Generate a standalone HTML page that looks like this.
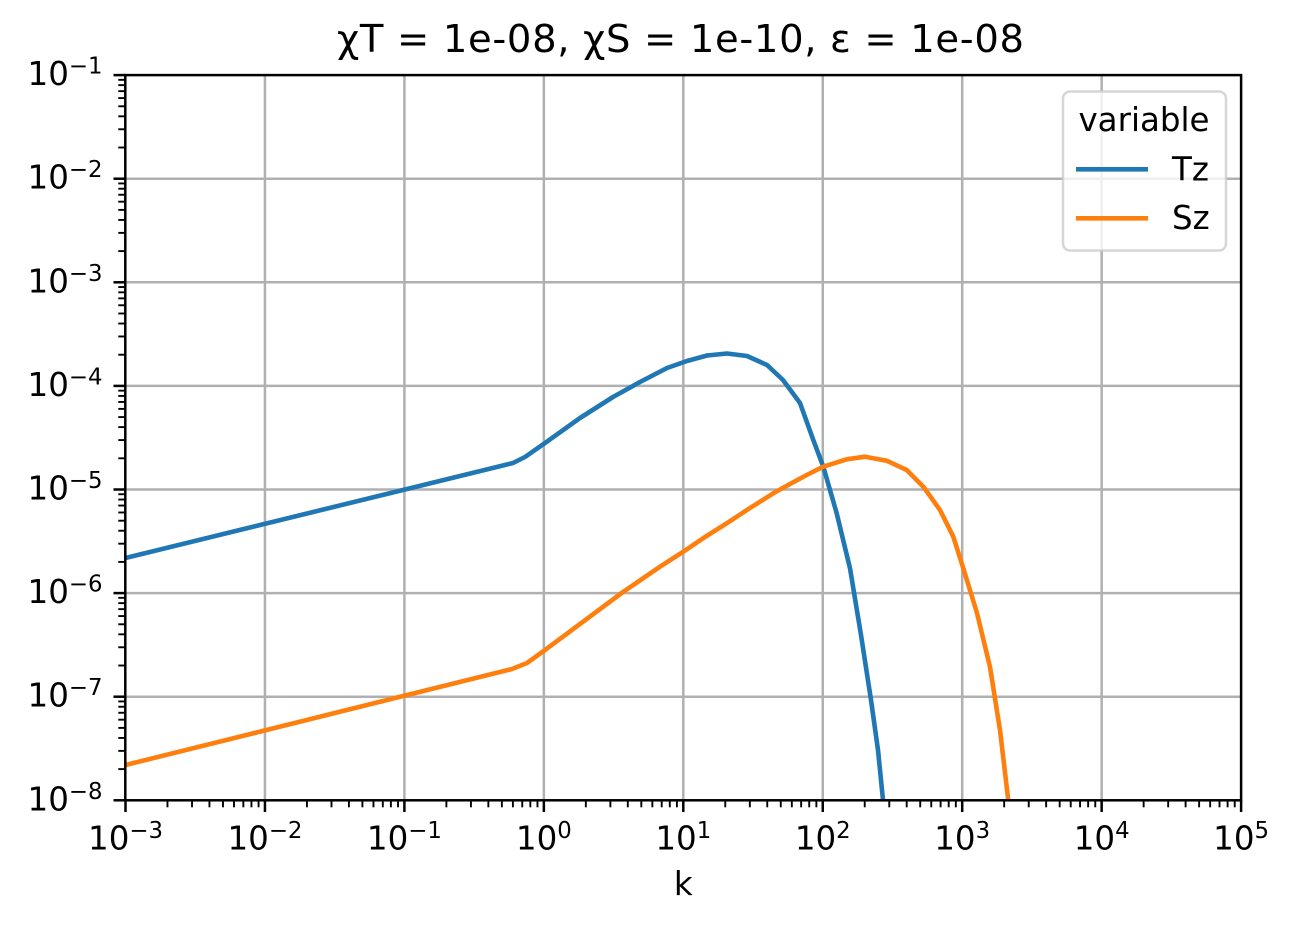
<!DOCTYPE html>
<html>
<head>
<meta charset="utf-8">
<style>
  html, body { margin: 0; padding: 0; background: #ffffff; }
  svg { display: block; }
  text { font-family: "DejaVu Sans", "Liberation Sans", sans-serif; fill: #000; }
</style>
</head>
<body>
<svg width="1293" height="928" viewBox="0 0 1293 928" xmlns="http://www.w3.org/2000/svg">
  <defs>
    <clipPath id="axclip">
      <rect x="125.3" y="75.1" width="1115.8" height="725.2"/>
    </clipPath>
    <g id="xminor" stroke="#000" stroke-width="1.9">
      <line x1="167.48" y1="800.3" x2="167.48" y2="807.3"/>
      <line x1="192.03" y1="800.3" x2="192.03" y2="807.3"/>
      <line x1="209.45" y1="800.3" x2="209.45" y2="807.3"/>
      <line x1="222.97" y1="800.3" x2="222.97" y2="807.3"/>
      <line x1="234.01" y1="800.3" x2="234.01" y2="807.3"/>
      <line x1="243.35" y1="800.3" x2="243.35" y2="807.3"/>
      <line x1="251.44" y1="800.3" x2="251.44" y2="807.3"/>
      <line x1="258.57" y1="800.3" x2="258.57" y2="807.3"/>
    </g>
    <g id="yminor" stroke="#000" stroke-width="1.9">
      <line x1="118.3" y1="769.11" x2="125.3" y2="769.11"/>
      <line x1="118.3" y1="750.87" x2="125.3" y2="750.87"/>
      <line x1="118.3" y1="737.93" x2="125.3" y2="737.93"/>
      <line x1="118.3" y1="727.89" x2="125.3" y2="727.89"/>
      <line x1="118.3" y1="719.68" x2="125.3" y2="719.68"/>
      <line x1="118.3" y1="712.75" x2="125.3" y2="712.75"/>
      <line x1="118.3" y1="706.74" x2="125.3" y2="706.74"/>
      <line x1="118.3" y1="701.44" x2="125.3" y2="701.44"/>
    </g>
  </defs>

  <!-- grid -->
  <g stroke="#b0b0b0" stroke-width="2.5">
    <line x1="264.95" y1="75.1" x2="264.95" y2="800.3"/>
    <line x1="404.4" y1="75.1" x2="404.4" y2="800.3"/>
    <line x1="543.85" y1="75.1" x2="543.85" y2="800.3"/>
    <line x1="683.3" y1="75.1" x2="683.3" y2="800.3"/>
    <line x1="822.75" y1="75.1" x2="822.75" y2="800.3"/>
    <line x1="962.2" y1="75.1" x2="962.2" y2="800.3"/>
    <line x1="1101.65" y1="75.1" x2="1101.65" y2="800.3"/>
    <line x1="125.3" y1="696.7" x2="1241.1" y2="696.7"/>
    <line x1="125.3" y1="593.1" x2="1241.1" y2="593.1"/>
    <line x1="125.3" y1="489.5" x2="1241.1" y2="489.5"/>
    <line x1="125.3" y1="385.9" x2="1241.1" y2="385.9"/>
    <line x1="125.3" y1="282.3" x2="1241.1" y2="282.3"/>
    <line x1="125.3" y1="178.7" x2="1241.1" y2="178.7"/>
  </g>

  <!-- series -->
  <g clip-path="url(#axclip)" fill="none" stroke-width="4.6" stroke-linejoin="round" stroke-linecap="butt">
    <polyline stroke="#1f77b4" points="125.5,558 513,463 525,457 545,443 580,418 613,397 640,382 667,368 687,361 707,355.5 727,353.5 747,356 767,365 783,380 800,403 813.3,440 823.3,466.7 836.7,513.3 850,568.3 861,635 871,700 878,750 883,800 886,840"/>
    <polyline stroke="#ff7f0e" points="125.5,765 512,669 527,663 545,650 623,592 660,566.7 683.3,551.7 705,537 726.7,523.3 750,508 773.3,493.3 790,484 806.7,475 823.3,466.7 846.7,459.3 865,456.7 886.7,460.7 906.7,470 923.3,486.7 940,510 953.3,536.7 963.3,568.3 977,613 990,667 1000,730 1008,798 1011,840"/>
  </g>

  <!-- spines -->
  <rect x="125.3" y="75.1" width="1115.8" height="725.2" fill="none" stroke="#000" stroke-width="2.5"/>

  <!-- minor ticks -->
  <use href="#xminor"/>
  <use href="#xminor" transform="translate(139.45,0)"/>
  <use href="#xminor" transform="translate(278.9,0)"/>
  <use href="#xminor" transform="translate(418.35,0)"/>
  <use href="#xminor" transform="translate(557.8,0)"/>
  <use href="#xminor" transform="translate(697.25,0)"/>
  <use href="#xminor" transform="translate(836.7,0)"/>
  <use href="#xminor" transform="translate(976.15,0)"/>
  <use href="#yminor"/>
  <use href="#yminor" transform="translate(0,-103.6)"/>
  <use href="#yminor" transform="translate(0,-207.2)"/>
  <use href="#yminor" transform="translate(0,-310.8)"/>
  <use href="#yminor" transform="translate(0,-414.4)"/>
  <use href="#yminor" transform="translate(0,-518)"/>
  <use href="#yminor" transform="translate(0,-621.6)"/>

  <!-- major ticks -->
  <g stroke="#000" stroke-width="2.5">
    <line x1="125.5" y1="800.3" x2="125.5" y2="812"/>
    <line x1="264.95" y1="800.3" x2="264.95" y2="812"/>
    <line x1="404.4" y1="800.3" x2="404.4" y2="812"/>
    <line x1="543.85" y1="800.3" x2="543.85" y2="812"/>
    <line x1="683.3" y1="800.3" x2="683.3" y2="812"/>
    <line x1="822.75" y1="800.3" x2="822.75" y2="812"/>
    <line x1="962.2" y1="800.3" x2="962.2" y2="812"/>
    <line x1="1101.65" y1="800.3" x2="1101.65" y2="812"/>
    <line x1="1241.1" y1="800.3" x2="1241.1" y2="812"/>
    <line x1="113.5" y1="800.3" x2="125.3" y2="800.3"/>
    <line x1="113.5" y1="696.7" x2="125.3" y2="696.7"/>
    <line x1="113.5" y1="593.1" x2="125.3" y2="593.1"/>
    <line x1="113.5" y1="489.5" x2="125.3" y2="489.5"/>
    <line x1="113.5" y1="385.9" x2="125.3" y2="385.9"/>
    <line x1="113.5" y1="282.3" x2="125.3" y2="282.3"/>
    <line x1="113.5" y1="178.7" x2="125.3" y2="178.7"/>
    <line x1="113.5" y1="75.1" x2="125.3" y2="75.1"/>
  </g>

  <!-- x tick labels -->
  <g font-size="32.5" text-anchor="middle">
    <text x="125.5" y="849.5">10<tspan font-size="22.8" dy="-11.5">−3</tspan></text>
    <text x="264.95" y="849.5">10<tspan font-size="22.8" dy="-11.5">−2</tspan></text>
    <text x="404.4" y="849.5">10<tspan font-size="22.8" dy="-11.5">−1</tspan></text>
    <text x="543.85" y="849.5">10<tspan font-size="22.8" dy="-11.5">0</tspan></text>
    <text x="683.3" y="849.5">10<tspan font-size="22.8" dy="-11.5">1</tspan></text>
    <text x="822.75" y="849.5">10<tspan font-size="22.8" dy="-11.5">2</tspan></text>
    <text x="962.2" y="849.5">10<tspan font-size="22.8" dy="-11.5">3</tspan></text>
    <text x="1101.65" y="849.5">10<tspan font-size="22.8" dy="-11.5">4</tspan></text>
    <text x="1241.1" y="849.5">10<tspan font-size="22.8" dy="-11.5">5</tspan></text>
  </g>

  <!-- y tick labels -->
  <g font-size="32.5" text-anchor="end">
    <text x="102.5" y="810.3">10<tspan font-size="22.8" dy="-11.5">−8</tspan></text>
    <text x="102.5" y="706.7">10<tspan font-size="22.8" dy="-11.5">−7</tspan></text>
    <text x="102.5" y="603.1">10<tspan font-size="22.8" dy="-11.5">−6</tspan></text>
    <text x="102.5" y="499.5">10<tspan font-size="22.8" dy="-11.5">−5</tspan></text>
    <text x="102.5" y="395.9">10<tspan font-size="22.8" dy="-11.5">−4</tspan></text>
    <text x="102.5" y="292.3">10<tspan font-size="22.8" dy="-11.5">−3</tspan></text>
    <text x="102.5" y="188.7">10<tspan font-size="22.8" dy="-11.5">−2</tspan></text>
    <text x="102.5" y="85.1">10<tspan font-size="22.8" dy="-11.5">−1</tspan></text>
  </g>

  <!-- axis label -->
  <text x="683.3" y="895" font-size="32.5" text-anchor="middle">k</text>

  <!-- title -->
  <text x="680.5" y="52" font-size="38.5" text-anchor="middle" textLength="687">χT = 1e-08, χS = 1e-10, ε = 1e-08</text>

  <!-- legend -->
  <rect x="1063" y="91.5" width="163" height="159" rx="7" ry="7" fill="#ffffff" fill-opacity="0.8" stroke="#cccccc" stroke-opacity="0.8" stroke-width="2.5"/>
  <text x="1144" y="131" font-size="32.5" text-anchor="middle">variable</text>
  <line x1="1076" y1="169.3" x2="1148" y2="169.3" stroke="#1f77b4" stroke-width="4.6"/>
  <text x="1172" y="180.5" font-size="32.5">Tz</text>
  <line x1="1076" y1="218.3" x2="1148" y2="218.3" stroke="#ff7f0e" stroke-width="4.6"/>
  <text x="1172" y="229" font-size="32.5">Sz</text>
</svg>
</body>
</html>
